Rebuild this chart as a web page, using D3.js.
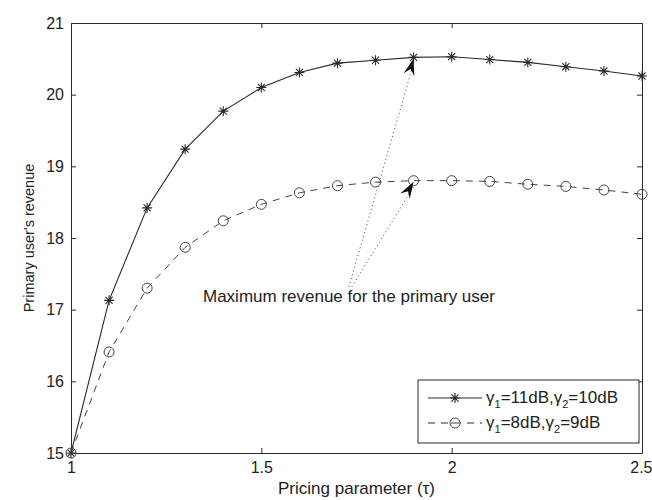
<!DOCTYPE html>
<html>
<head>
<meta charset="utf-8">
<script src="https://cdn.jsdelivr.net/npm/d3@7"></script>
<style>
  html, body { margin: 0; padding: 0; background: #fff; }
  svg { display: block; }
  text { font-family: "Liberation Sans", Arial, Helvetica, sans-serif; fill: #222; }
</style>
</head>
<body>
<svg id="chart" width="652" height="500"></svg>
<script>
// Pricing parameter tau
const tau = [1.0, 1.1, 1.2, 1.3, 1.4, 1.5, 1.6, 1.7, 1.8, 1.9, 2.0, 2.1, 2.2, 2.3, 2.4, 2.5];
// Primary user's revenue, gamma1 = 11 dB, gamma2 = 10 dB
const revenueHigh = [15.0, 17.13, 18.42, 19.24, 19.77, 20.10, 20.31, 20.44, 20.48, 20.52, 20.53, 20.49, 20.45, 20.39, 20.33, 20.26];
// Primary user's revenue, gamma1 = 8 dB, gamma2 = 9 dB
const revenueLow = [15.0, 16.41, 17.30, 17.87, 18.24, 18.47, 18.63, 18.73, 18.78, 18.80, 18.80, 18.79, 18.75, 18.72, 18.67, 18.61];

const xTicks = [1, 1.5, 2, 2.5];
const yTicks = [15, 16, 17, 18, 19, 20, 21];

// Annotation: the two arrow tails / tips (data units)
const noteText = "Maximum revenue for the primary user";
const noteTails = [[1.73, 17.32], [1.738, 17.32]];
const noteTips = [[1.9, 20.52], [1.9, 18.80]];

const W = 652, H = 500;
const margin = { top: 23, right: 10, bottom: 47, left: 71 };
const ink = "#2a2a2a";

const svg = d3.select("#chart");
const x = d3.scaleLinear().domain([1, 2.5]).range([margin.left, W - margin.right]);
const y = d3.scaleLinear().domain([15, 21]).range([H - margin.bottom, margin.top]);

// Axes (ticks point inward, mirrored on the top/right edges)
const tickLen = 5;
const fmt = d => d3.format("")(d);
function styleAxis(g) {
  g.select(".domain").attr("stroke", ink).attr("stroke-width", 1);
  g.selectAll(".tick line").attr("stroke", ink);
  g.selectAll(".tick text").attr("font-size", 16).attr("fill", "#222")
    .style("font-family", '"Liberation Sans", Arial, sans-serif');
}
svg.append("g").attr("transform", `translate(0,${y(15)})`)
  .call(d3.axisBottom(x).tickValues(xTicks).tickFormat(fmt).tickSizeInner(-tickLen).tickSizeOuter(0).tickPadding(9))
  .call(styleAxis)
  // keep the last label inside the page edge
  .call(g => g.selectAll(".tick text").filter(d => d === 2.5).attr("text-anchor", "end").attr("dx", 10));
svg.append("g").attr("transform", `translate(0,${y(21)})`)
  .call(d3.axisTop(x).tickValues(xTicks).tickFormat("").tickSizeInner(-tickLen).tickSizeOuter(0))
  .call(styleAxis);
svg.append("g").attr("transform", `translate(${x(1)},0)`)
  .call(d3.axisLeft(y).tickValues(yTicks).tickFormat(fmt).tickSizeInner(-tickLen).tickSizeOuter(0).tickPadding(7))
  .call(styleAxis);
svg.append("g").attr("transform", `translate(${x(2.5)},0)`)
  .call(d3.axisRight(y).tickValues(yTicks).tickFormat("").tickSizeInner(-tickLen).tickSizeOuter(0))
  .call(styleAxis);

// Axis titles
svg.append("text").attr("x", (x(1) + x(2.5)) / 2).attr("y", 494)
  .attr("text-anchor", "middle").attr("font-size", 17).text("Pricing parameter (τ)");
svg.append("text").attr("transform", `translate(34,${(y(15) + y(21)) / 2}) rotate(-90)`)
  .attr("text-anchor", "middle").attr("font-size", 14.5).text("Primary user's revenue");

// Marker shapes
function starPath(r) {
  let p = "";
  for (let k = 0; k < 4; k++) {
    const a = k * Math.PI / 4;
    const dx = r * Math.cos(a), dy = r * Math.sin(a);
    p += `M${-dx},${-dy}L${dx},${dy}`;
  }
  return p;
}

const line = d3.line().x((d, i) => x(tau[i])).y(d => y(d));

// Series: solid line with asterisks
svg.append("path").datum(revenueHigh).attr("d", line)
  .attr("fill", "none").attr("stroke", ink).attr("stroke-width", 1.1);
svg.append("g").selectAll("path").data(revenueHigh).join("path")
  .attr("transform", (d, i) => `translate(${x(tau[i])},${y(d)})`)
  .attr("d", starPath(5)).attr("stroke", ink).attr("stroke-width", 1.1).attr("fill", "none");

// Series: dashed line with circles
svg.append("path").datum(revenueLow).attr("d", line)
  .attr("fill", "none").attr("stroke", "#444").attr("stroke-width", 1)
  .attr("stroke-dasharray", "7,6");
svg.append("g").selectAll("circle").data(revenueLow).join("circle")
  .attr("cx", (d, i) => x(tau[i])).attr("cy", d => y(d)).attr("r", 5)
  .attr("fill", "none").attr("stroke", "#444").attr("stroke-width", 1);

// Annotation arrows (dotted shafts, filled heads)
function arrowHead(tip, tail) {
  const tx = x(tip[0]), ty = y(tip[1]) + 1;
  const ang = Math.atan2(ty - y(tail[1]), tx - x(tail[0]));
  const L = 17, Wd = 5.5, back = 11;
  const ca = Math.cos(ang), sa = Math.sin(ang);
  const pt = (l, w) => [tx - l * ca - w * sa, ty - l * sa + w * ca];
  const p1 = pt(L, Wd), p2 = pt(back, 0), p3 = pt(L, -Wd);
  return `M${tx},${ty}L${p1}L${p2}L${p3}Z`;
}
noteTips.forEach((tip, k) => {
  const tail = noteTails[k];
  svg.append("line")
    .attr("x1", x(tail[0])).attr("y1", y(tail[1]))
    .attr("x2", x(tip[0])).attr("y2", y(tip[1]) + 6)
    .attr("stroke", "#444").attr("stroke-width", 1).attr("stroke-dasharray", "1,3");
  svg.append("path").attr("d", arrowHead(tip, tail)).attr("fill", "#111");
});
svg.append("text").attr("x", 203).attr("y", 302).attr("font-size", 17).text(noteText);

// Legend
const lg = svg.append("g");
lg.append("rect").attr("x", 418).attr("y", 380).attr("width", 221).attr("height", 63)
  .attr("fill", "#fff").attr("stroke", ink).attr("stroke-width", 1);
const legendRows = [
  { y: 398, dash: null, marker: "star", g1: "11dB", g2: "10dB" },
  { y: 423, dash: "7,6", marker: "circle", g1: "8dB", g2: "9dB" }
];
legendRows.forEach(r => {
  lg.append("line").attr("x1", 428).attr("x2", 482).attr("y1", r.y).attr("y2", r.y)
    .attr("stroke", ink).attr("stroke-width", 1).attr("stroke-dasharray", r.dash);
  if (r.marker === "star") {
    lg.append("path").attr("transform", `translate(455,${r.y})`).attr("d", starPath(5))
      .attr("stroke", ink).attr("stroke-width", 1.1);
  } else {
    lg.append("circle").attr("cx", 455).attr("cy", r.y).attr("r", 5)
      .attr("fill", "#fff").attr("stroke", "#444");
    lg.append("line").attr("x1", 451).attr("x2", 459).attr("y1", r.y).attr("y2", r.y).attr("stroke", "#444");
  }
  const t = lg.append("text").attr("x", 486).attr("y", r.y + 5).attr("font-size", 17);
  t.append("tspan").text("γ");
  t.append("tspan").attr("font-size", 11).attr("dy", 5).text("1");
  t.append("tspan").attr("dy", -5).text("=" + r.g1 + ",γ");
  t.append("tspan").attr("font-size", 11).attr("dy", 5).text("2");
  t.append("tspan").attr("dy", -5).text("=" + r.g2);
});
</script>
</body>
</html>
